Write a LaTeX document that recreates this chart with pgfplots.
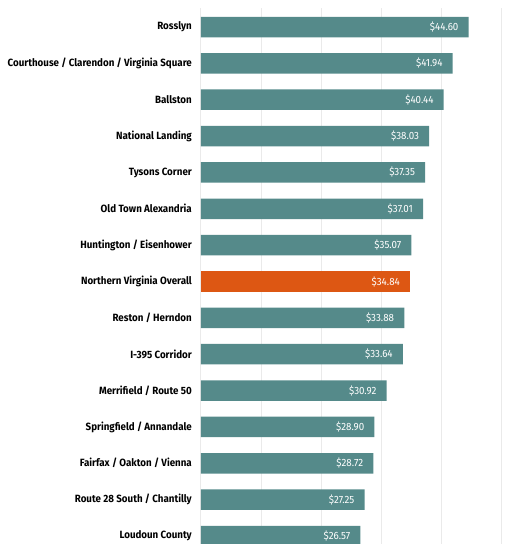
\documentclass[border=0pt]{standalone}
\usepackage{pgfplots}
\pgfplotsset{compat=1.18}
\usepackage{fontspec}
\setmainfont[FakeStretch=0.93]{Fira Sans}
\definecolor{barteal}{RGB}{85,138,138}
\definecolor{barorange}{RGB}{221,87,19}
\definecolor{gridgray}{RGB}{234,234,234}
\begin{document}
\begin{tikzpicture}[x=1pt,y=1pt]
\path[use as bounding box, clip] (0,0) rectangle (515,544);
\begin{axis}[
  at={(201pt,0pt)}, anchor=south west,
  scale only axis,
  width=314pt, height=536pt,
  xmin=0, xmax=52.33,
  ymin=-0.523, ymax=14.22,
  y dir=reverse,
  xbar, bar width=20.5pt, bar shift=0pt,
  xtick={0,10,20,30,40,50}, xticklabels={},
  xmajorgrids, grid style={gridgray, line width=1pt},
  ytick={0,...,14},
  yticklabels={Rosslyn, Courthouse / Clarendon / Virginia Square, Ballston, National Landing, Tysons Corner, Old Town Alexandria, Huntington / Eisenhower, Northern Virginia Overall, Reston / Herndon, I-395 Corridor, Merrifield / Route 50, Springfield / Annandale, Fairfax / Oakton / Vienna, Route 28 South / Chantilly, Loudoun County},
  yticklabel style={font=\fontsize{10.5}{12}\selectfont\bfseries, inner sep=0pt, xshift=-9pt, anchor=east},
  axis line style={draw=none},
  major tick length=0pt,
  tick style={draw=none},
  clip=true,
  point meta=x,
  nodes near coords={\$\pgfmathprintnumber[fixed,fixed zerofill,precision=2,assume math mode=true]{\pgfplotspointmeta}},
  every node near coord/.append style={anchor=east, xshift=-10pt, text=white, font=\fontsize{10.5}{12}\selectfont, inner sep=0pt},
]
\addplot[fill=barteal, draw=none] coordinates {
(44.60,0) (41.94,1) (40.44,2) (38.03,3) (37.35,4) (37.01,5) (35.07,6)
(33.88,8) (33.64,9) (30.92,10) (28.90,11) (28.72,12) (27.25,13) (26.57,14)
};
\addplot[fill=barorange, draw=none] coordinates {(34.84,7)};
\end{axis}
\end{tikzpicture}
\end{document}
